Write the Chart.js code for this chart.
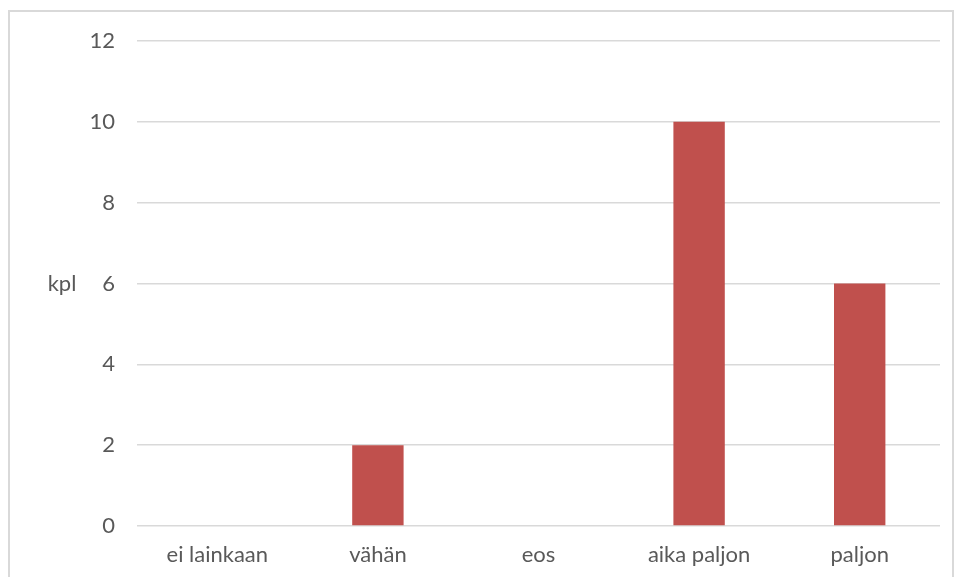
<!DOCTYPE html>
<html>
<head>
<meta charset="utf-8">
<script src="https://cdn.jsdelivr.net/npm/chart.js@4"></script>
<style>
  html, body { margin: 0; padding: 0; background: #fff; }
  #wrap { position: relative; width: 958px; height: 577px; overflow: hidden; }
  #frame { position: absolute; left: 8px; top: 10px; width: 946px; height: 600px;
           border: 2px solid #d9d9d9; box-sizing: border-box; }
  canvas { position: absolute; left: 0; top: 0; }
</style>
</head>
<body>
<div id="wrap">
  <div id="frame"></div>
  <canvas id="myChart" width="958" height="577"></canvas>
</div>
<script>
const categories = ['ei lainkaan', 'vähän', 'eos', 'aika paljon', 'paljon'];
const counts = [0, 2, 0, 10, 6];
const yTitle = 'kpl';

const font = { family: "Lato, 'Open Sans', sans-serif", size: 22 };
const textColor = '#595959';

// horizontal y-axis title, like the original
const sideTitle = {
  id: 'sideTitle',
  afterDraw(chart) {
    const ctx = chart.ctx;
    const area = chart.chartArea;
    ctx.save();
    ctx.font = font.size + 'px ' + font.family;
    ctx.fillStyle = textColor;
    ctx.textAlign = 'center';
    ctx.textBaseline = 'middle';
    ctx.fillText(yTitle, 62, (area.top + area.bottom) / 2);
    ctx.restore();
  }
};

new Chart(document.getElementById('myChart'), {
  type: 'bar',
  data: {
    labels: categories,
    datasets: [{
      data: counts,
      backgroundColor: '#C0504D',
      categoryPercentage: 1,
      barPercentage: 0.32
    }]
  },
  options: {
    responsive: false,
    animation: false,
    layout: { padding: { left: 0, right: 18, top: 41, bottom: 0 } },
    plugins: { legend: { display: false }, tooltip: { enabled: false } },
    scales: {
      x: {
        grid: { display: false, drawTicks: false },
        border: { display: false },
        ticks: { color: textColor, font: font, padding: 16, maxRotation: 0 },
        afterFit(scale) { scale.height = 51; }
      },
      y: {
        min: 0, max: 12,
        grid: { color: '#d9d9d9', lineWidth: 1.5, drawTicks: false },
        border: { display: false },
        ticks: { stepSize: 2, color: textColor, font: font, padding: 22 },
        afterFit(scale) { scale.width = 137; }
      }
    }
  },
  plugins: [sideTitle]
});
</script>
</body>
</html>
